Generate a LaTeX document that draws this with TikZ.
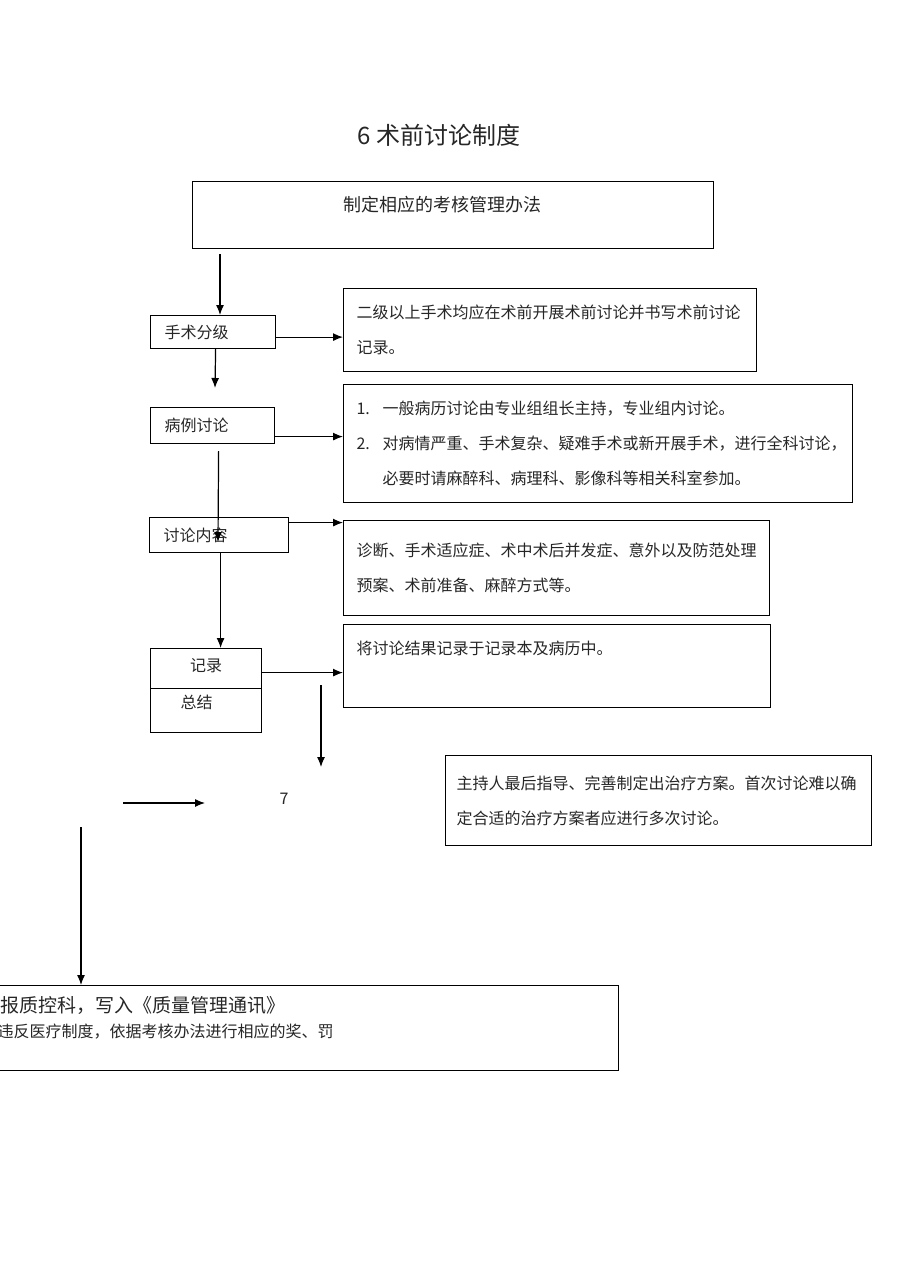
\documentclass[tikz,border=0pt]{standalone}
\usepackage{fontspec}
\newfontfamily\cjk{Noto Sans CJK SC}
\usetikzlibrary{arrows.meta}

\begin{document}
\begin{tikzpicture}[x=1pt, y=-1pt,
	>={Latex[length=10pt,width=8pt]}, line width=1.2pt,
	every node/.style={font=\cjk\fontsize{16}{35}\selectfont, text=black!85},
	box/.style={draw, anchor=north west, inner ysep=0pt, align=left}]
	\useasboundingbox (0,0) rectangle (910,1287);
	\clip (0,0) rectangle (910,1287);

	\node (title) at (439,135) [font=\cjk\fontsize{24}{24}\selectfont] {6 术前讨论制度};

	\node (top) at (192,181) [box, text width=219pt, inner xsep=151pt, text height=30pt, text depth=37pt, font=\cjk\fontsize{18}{18}\selectfont] {制定相应的考核管理办法};
	\node (fj) at (150,315) [box, text width=97pt, inner xsep=14pt, minimum height=33pt] {手术分级};
	\node (b1) at (343,288) [box, text width=387pt, inner xsep=13pt, minimum height=83pt] {二级以上手术均应在术前开展术前讨论并书写术前讨论\\记录。};
	\node (bl) at (150,407) [box, text width=96pt, inner xsep=14pt, minimum height=36pt] {病例讨论};
	\node (b2) at (343,384) [box, text width=483pt, inner xsep=13pt, minimum height=118pt] {\makebox[26pt][l]{1.}一般病历讨论由专业组组长主持，专业组内讨论。\\\makebox[26pt][l]{2.}对病情严重、手术复杂、疑难手术或新开展手术，进行全科讨论，\\\hspace*{26pt}必要时请麻醉科、病理科、影像科等相关科室参加。};
	\node (tl) at (149,517) [box, text width=111pt, inner xsep=14pt, minimum height=35pt] {讨论内容};
	\node (b3) at (343,520) [box, text width=400pt, inner xsep=13pt, minimum height=95pt] {诊断、手术适应症、术中术后并发症、意外以及防范处理\\预案、术前准备、麻醉方式等。};
	\node (jl) at (150,648) [box, minimum width=111pt, inner xsep=0pt, text height=23pt, text depth=17pt] {记录};
	\node (zj) at (150,688) [box, text width=51pt, inner xsep=30pt, text height=20pt, text depth=24pt] {总结};
	\node (b4) at (343,624) [box, text width=401pt, inner xsep=13pt, text height=30pt, text depth=53pt] {将讨论结果记录于记录本及病历中。};
	\node (pg) at (284,799) {7};
	\node (b5) at (445,755) [box, text width=404pt, inner xsep=11pt, minimum height=90pt] {主持人最后指导、完善制定出治疗方案。首次讨论难以确\\定合适的治疗方案者应进行多次讨论。};
	\node (rpt) at (-30,985) [box, minimum width=648pt, minimum height=85pt] {};
	\node (rt1) at ([shift={(30,27)}]rpt.north west) [anchor=base west, inner sep=0pt, font=\cjk\fontsize{19}{19}\selectfont] {报质控科，写入《质量管理通讯》};
	\node (rt2) at ([shift={(27,52)}]rpt.north west) [anchor=base west, inner sep=0pt] {违反医疗制度，依据考核办法进行相应的奖、罚};

	\coordinate (c1) at (321,685);
	\coordinate (c2) at (321,767);
	\coordinate (c3) at (123,803);
	\coordinate (c4) at (205,803);
	\coordinate (c5) at (81,827);

	\draw [->] ([shift={(28,5)}]top.south west) -- ([shift={(70,0)}]fj.north west);
	\draw [->] ([yshift=-5pt]fj.east) -- ([yshift=-5pt]fj.east -| b1.west);
	\draw [->] ([xshift=2.5pt]fj.south) -- ([shift={(65,-19)}]bl.north west);
	\draw [->] ([yshift=-11pt]bl.east) -- ([yshift=-11pt]bl.east -| b2.west);
	\draw [->] ([shift={(6,7)}]bl.south) -- ([shift={(69,25)}]tl.north west);
	\draw [->] ([yshift=12.5pt]tl.east) -- ([yshift=12.5pt]tl.east -| b3.west);
	\draw [->] ([xshift=1.5pt]tl.south) -- ([xshift=1.5pt]tl.south |- jl.north);
	\draw [->] ([yshift=-4pt]jl.east) -- ([yshift=-4pt]jl.east -| b4.west);
	\draw [->] (c1) -- (c2);
	\draw [->] (c3) -- (c4);
	\draw [->] (c5) -- (c5 |- rpt.north);
\end{tikzpicture}
\end{document}
